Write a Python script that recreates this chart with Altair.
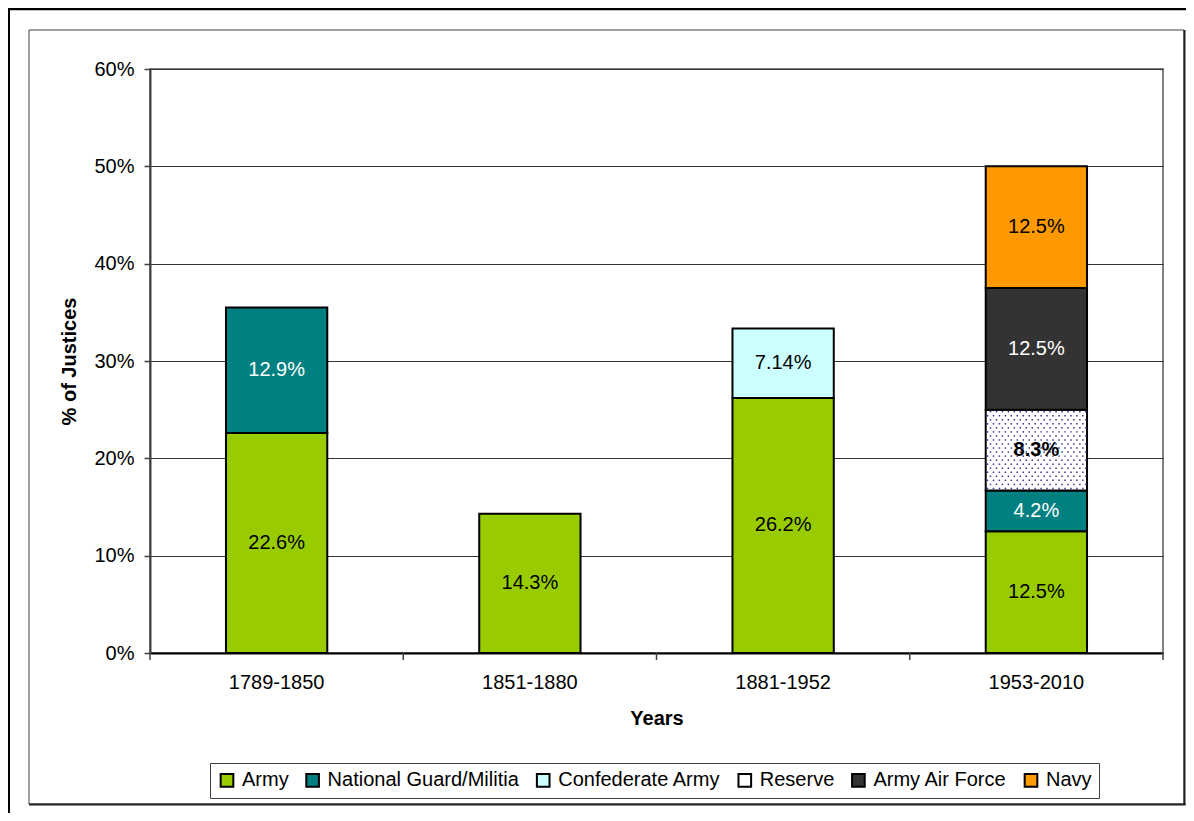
import altair as alt
import pandas as pd

# ---------------- data ----------------
periods = ["1789-1850", "1851-1880", "1881-1952", "1953-2010"]
series = ["Army", "National Guard/Militia", "Confederate Army", "Reserve",
          "Army Air Force", "Navy"]
colors = ["#99CC00", "#008080", "#CCFFFF", "#FFFFFF", "#333333", "#FF9900"]

army = [22.6, 14.3, 26.2, 12.5]
guard = [12.9, None, None, 4.2]
confederate = [None, None, 7.14, None]
reserve = [None, None, None, 8.3]
air_force = [None, None, None, 12.5]
navy = [None, None, None, 12.5]

values_by_series = [army, guard, confederate, reserve, air_force, navy]

rows = []
for si, (name, vals) in enumerate(zip(series, values_by_series)):
    for p, v in zip(periods, vals):
        if v is not None:
            rows.append({"period": p, "series": name, "idx": si, "value": v,
                         "label": f"{v:g}%"})
df = pd.DataFrame(rows)

# ---------------- layout constants ----------------
W, H = 1013, 584
PAD_INNER, PAD_OUTER = 0.6, 0.3
FONT = "Liberation Sans"

xscale = alt.Scale(domain=periods, paddingInner=PAD_INNER, paddingOuter=PAD_OUTER)
yscale = alt.Scale(domain=[0, 60], nice=False, zero=True)
lin_x = alt.Scale(domain=[0, len(periods)], nice=False, zero=False)

y_axis = alt.Axis(title="% of Justices", values=[0, 10, 20, 30, 40, 50, 60],
                  labelExpr="datum.value + '%'", grid=True,
                  gridColor="#333333", gridWidth=1,
                  domainColor="#404040", domainWidth=2,
                  tickColor="#404040", tickSize=6, tickWidth=1.5,
                  labelPadding=10, titlePadding=14)

base = alt.Chart(df).transform_stack(
    stack="value", groupby=["period"], as_=["y0", "y1"],
    sort=[alt.SortField("idx", order="ascending")]
).transform_calculate(mid="(datum.y0 + datum.y1) / 2")

bars = base.mark_bar(stroke="black", strokeWidth=2).encode(
    x=alt.X("period:N", scale=xscale, sort=periods,
            axis=alt.Axis(title="Years", labelAngle=0, ticks=False,
                          grid=False, domainColor="black", domainWidth=2,
                          labelPadding=19, titlePadding=16)),
    y=alt.Y("y0:Q", scale=yscale, axis=y_axis),
    y2="y1:Q",
    fill=alt.Fill("series:N", scale=alt.Scale(domain=series, range=colors),
                  sort=series,
                  legend=alt.Legend(orient="none", legendX=60, legendY=694,
                                    direction="horizontal", columns=6, title=None,
                                    symbolType="square", symbolSize=160,
                                    symbolStrokeColor="black", symbolStrokeWidth=2,
                                    symbolOpacity=1,
                                    labelFontSize=20, labelFont=FONT,
                                    labelColor="black", labelOffset=5,
                                    columnPadding=12.6, padding=7,
                                    strokeColor="#404040", fillColor="white",
                                    labelLimit=400)),
)

# category boundary ticks below the x axis (between categories, like the original)
bounds = alt.Chart(alt.sequence(0, len(periods) + 1, as_="b")).mark_rule(
    color="#404040", strokeWidth=1.5
).encode(
    x=alt.X("b:Q", scale=lin_x, axis=None),
    y=alt.value(H), y2=alt.value(H + 7),
)

# dotted texture for the Reserve segment (drawn inside its bar)
band_i = periods.index("1953-2010")
x_start = band_i + PAD_OUTER
x_width = 1 - PAD_INNER
lo = army[3] + guard[3]
hi = lo + reserve[3]
NC, NR = 17, 20
dots = alt.Chart(alt.sequence(0, NC * NR, as_="i")).transform_calculate(
    r=f"floor(datum.i / {NC})", c=f"datum.i % {NC}"
).transform_calculate(
    px=f"{x_start} + {x_width} * (datum.c + 0.3 + (datum.r % 2) * 0.5) / {NC}",
    py=f"{lo} + ({hi} - {lo}) * (datum.r + 0.5) / {NR}",
).mark_square(size=2.2, color="#333399", opacity=1).encode(
    x=alt.X("px:Q", scale=lin_x, axis=None),
    y=alt.Y("py:Q", scale=yscale, axis=y_axis),
)

cond_white = alt.FieldOneOfPredicate(field="series",
                                     oneOf=["National Guard/Militia", "Army Air Force"])
labels = base.transform_filter(alt.datum.series != "Reserve").mark_text(
    fontSize=20, font=FONT
).encode(
    x=alt.X("period:N", scale=xscale, sort=periods, axis=None),
    y=alt.Y("mid:Q", scale=yscale, axis=y_axis),
    text="label:N",
    color=alt.condition(cond_white, alt.value("white"), alt.value("black")),
)
labels_bold = base.transform_filter(alt.datum.series == "Reserve").mark_text(
    fontSize=20, font=FONT, fontWeight="bold", color="black"
).encode(
    x=alt.X("period:N", scale=xscale, sort=periods, axis=None),
    y=alt.Y("mid:Q", scale=yscale, axis=y_axis),
    text="label:N",
)

# frame decorations (outer page frame and inner chart-area frame)
one = alt.Data(values=[{"k": 0}])
outer_top = alt.Chart(one).mark_rule(color="black", strokeWidth=2.5).encode(
    x=alt.value(-142), x2=alt.value(1036), y=alt.value(-60))
outer_left = alt.Chart(one).mark_rule(color="black", strokeWidth=3).encode(
    x=alt.value(-141.5), y=alt.value(-61), y2=alt.value(744))
inner_box = alt.Chart(one).mark_rect(fill="white", fillOpacity=0, stroke="#404040",
                                     strokeWidth=1).encode(
    x=alt.value(-121), x2=alt.value(1034), y=alt.value(-39), y2=alt.value(735))
inner_right = alt.Chart(one).mark_rule(color="#202020", strokeWidth=2).encode(
    x=alt.value(1034.5), y=alt.value(-39), y2=alt.value(736))
inner_bottom = alt.Chart(one).mark_rule(color="#202020", strokeWidth=2).encode(
    x=alt.value(-121), x2=alt.value(1035.5), y=alt.value(735.5))

chart = alt.layer(
    inner_box, bars, bounds, dots, labels, labels_bold,
    outer_top, outer_left, inner_right, inner_bottom
).resolve_scale(x="independent").properties(
    width=W, height=H,
    autosize=alt.AutoSizeParams(type="none"),
    padding={"left": 142, "top": 61, "right": 23, "bottom": 160},
    background="white",
).configure_view(
    stroke="#808080", strokeWidth=2
).configure_axis(
    labelFont=FONT, titleFont=FONT, labelFontSize=20, titleFontSize=20,
    titleFontWeight="bold", labelColor="black", titleColor="black",
)

chart.save("out.html", embed_options={"renderer": "svg", "actions": False})
